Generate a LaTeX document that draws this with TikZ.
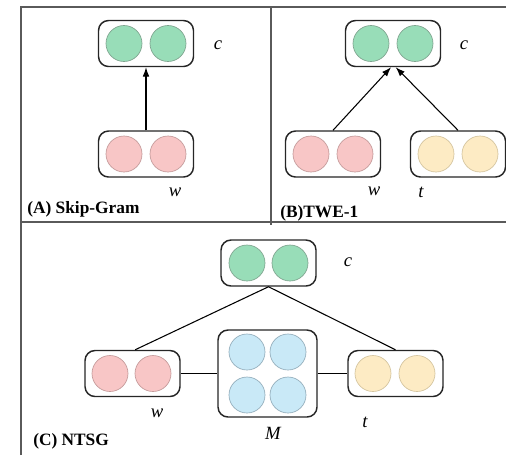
\documentclass[tikz,border=0pt]{standalone}
\usepackage{fontspec}
\setmainfont{Liberation Serif}
\usetikzlibrary{arrows.meta}
\definecolor{gfill}{HTML}{98DDB8}\definecolor{gline}{HTML}{7FA48F}
\definecolor{pfill}{HTML}{F8C6C6}\definecolor{pline}{HTML}{C49A9A}
\definecolor{yfill}{HTML}{FDEBC4}\definecolor{yline}{HTML}{D4C49E}
\definecolor{bfill}{HTML}{C9E9F7}\definecolor{bline}{HTML}{93ADBB}
\definecolor{frame}{HTML}{5A5A5A}
\tikzset{
  vecbox/.style={draw=black!85, line width=1.1pt, rounded corners=7.5pt, fill=white,
    minimum width=95*0.75pt, minimum height=46*0.75pt, inner sep=0pt},
  mbox/.style={vecbox, minimum width=99*0.75pt, minimum height=87*0.75pt},
  unit/.style={circle, minimum size=36*0.75pt, inner sep=0pt, line width=0.5pt},
  gunit/.style={unit, fill=gfill, draw=gline},
  punit/.style={unit, fill=pfill, draw=pline},
  yunit/.style={unit, fill=yfill, draw=yline},
  bunit/.style={unit, fill=bfill, draw=bline},
  var/.style={font=\fontsize{14}{16}\selectfont\itshape, inner sep=0pt},
  panel/.style={font=\fontsize{13}{15}\selectfont\bfseries, anchor=west, inner sep=0pt},
  link/.style={line width=0.8pt, black},
  arr/.style={link, -{Latex[length=7pt,width=5pt]}},
  frameline/.style={line width=1.1pt, frame}
}
\begin{document}
\begin{tikzpicture}[x=0.75pt, y=-0.75pt]
\useasboundingbox (0,0) rectangle (506,455);
% frame
\coordinate (f1) at (21,7); \coordinate (f2) at (506,7);
\coordinate (f3) at (21,455); \coordinate (f4) at (271,7);
\coordinate (f5) at (271,225); \coordinate (f6) at (21,222); \coordinate (f7) at (506,222);
\draw[frameline] (f3) -- (f1) -- (f2);
\draw[frameline] (f4) -- (f5);
\draw[frameline] (f6) -- (f7);

% ---------- Panel A ----------
\node[vecbox] (Ac) at (146,43.5) {};
\node[gunit] (Ac1) at (124,43.5) {}; \node[gunit] (Ac2) at (168,43.5) {};
\node[vecbox] (Aw) at (146,154) {};
\node[punit] (Aw1) at (124,154) {}; \node[punit] (Aw2) at (168,154) {};
\draw[arr] (Aw.north) -- (Ac.south);
\node[var] (Acl) at (218,45) {c};
\node[var] (Awl) at (175,192) {w};
\node[panel] (Al) at (27,209) {(A) Skip-Gram};

% ---------- Panel B ----------
\node[vecbox] (Bc) at (393,43.5) {};
\node[gunit] (Bc1) at (371,43.5) {}; \node[gunit] (Bc2) at (415,43.5) {};
\node[vecbox] (Bw) at (333,154) {};
\node[punit] (Bw1) at (311,154) {}; \node[punit] (Bw2) at (355,154) {};
\node[vecbox] (Bt) at (458,154) {};
\node[yunit] (Bt1) at (436,154) {}; \node[yunit] (Bt2) at (480,154) {};
\draw[arr] (Bw.north) -- ([xshift=-1.5pt]Bc.south);
\draw[arr] (Bt.north) -- ([xshift=2pt]Bc.south);
\node[var] (Bcl) at (464,45) {c};
\node[var] (Bwl) at (374,191) {w};
\node[var] (Btl) at (421,192) {t};
\node[panel] (Bl) at (280,213) {(B)TWE-1};

% ---------- Panel C ----------
\node[vecbox] (Cc) at (268.5,263) {};
\node[gunit] (Cc1) at (247,263) {}; \node[gunit] (Cc2) at (290,263) {};
\node[vecbox] (Cw) at (132.5,373.5) {};
\node[punit] (Cw1) at (110,373.5) {}; \node[punit] (Cw2) at (153,373.5) {};
\node[mbox] (CM) at (267.5,373.5) {};
\node[bunit] (CM1) at (247,352) {}; \node[bunit] (CM2) at (288,352) {};
\node[bunit] (CM3) at (247,395) {}; \node[bunit] (CM4) at (288,395) {};
\node[vecbox] (Ct) at (395.5,373.5) {};
\node[yunit] (Ct1) at (373,373.5) {}; \node[yunit] (Ct2) at (417,373.5) {};
\draw[link] ([xshift=2pt]Cw.north) -- (Cc.south) -- (Ct.north);
\draw[link] (Cw.east) -- (CM.west);
\draw[link] (CM.east) -- (Ct.west);
\node[var] (Ccl) at (348,262) {c};
\node[var] (Cwl) at (157,413) {w};
\node[var] (CMl) at (273,433) {M};
\node[var] (Ctl) at (365,422) {t};
\node[panel] (Cl) at (33,441) {(C) NTSG};
\end{tikzpicture}
\end{document}
